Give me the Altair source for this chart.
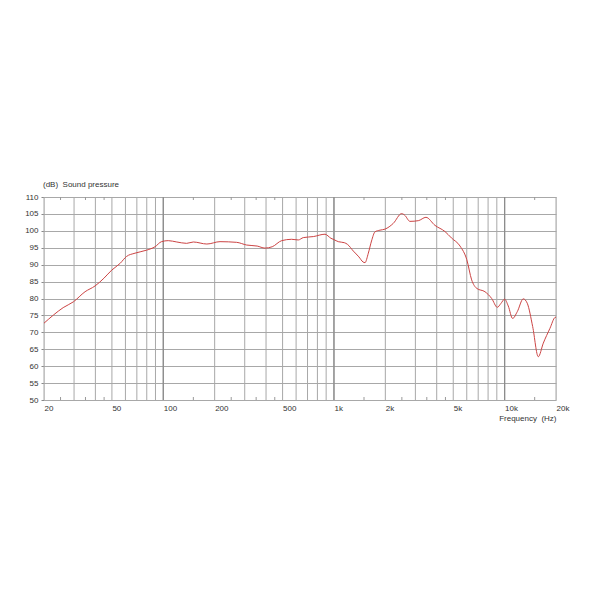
import altair as alt
import pandas as pd

# Frequency response
freq = [20, 22.7, 25.9, 29.7, 34.8, 39.8, 44.9, 49.9, 55.9, 60.8, 68.3, 80, 89.5,
        97.6, 107, 120, 137, 150, 180, 215, 269, 308, 355, 394, 435, 494, 565,
        618, 661, 757, 886, 960, 1000, 1060, 1150, 1200, 1300, 1400, 1480, 1520,
        1590, 1660, 1740, 1860, 1990, 2226, 2493, 2600, 2789, 3120, 3460, 3910,
        4470, 4880, 5480, 6000, 6410, 6860, 7670, 8400, 9060, 9500, 10000, 10500,
        11140, 11860, 12860, 13570, 14600, 15750, 16850, 18440, 19720, 20000]
spl = [72.7, 75.1, 77.3, 79.0, 82.0, 83.7, 86.0, 88.4, 90.4, 92.4, 93.4, 94.3, 95.3,
       96.8, 97.1, 96.7, 96.3, 96.7, 96.1, 96.8, 96.6, 95.8, 95.5, 94.9, 95.3, 97.1, 97.5,
       97.3, 98.0, 98.3, 99.0, 97.8, 97.4, 96.8, 96.5, 96.0, 94.0, 92.3, 90.8, 90.6,
       93.4, 97.0, 99.7, 100.2, 100.5, 102.2, 105.1, 104.6, 102.8, 103.0, 104.0, 101.6,
       99.8, 97.9, 95.5, 91.5, 85.5, 83.0, 82.0, 80.0, 77.4, 78.5, 79.8, 77.8,
       74.1, 76.1, 79.9, 78.6, 71.7, 62.8, 66.8, 71.2, 74.4, 74.5]

grid_freqs = [20, 30, 40, 50, 60, 70, 80, 90, 100, 200, 300, 400, 500, 600, 700, 800, 900,
              1000, 2000, 3000, 4000, 5000, 6000, 7000, 8000, 9000, 10000, 20000]
decade_freqs = [100, 1000, 10000]
minor_ticks = [25, 35, 45, 150, 250, 350, 450, 1500, 2500, 3500, 4500, 15000]
label_freqs = [20, 50, 100, 200, 500, 1000, 2000, 5000, 10000, 20000]
db_ticks = [50, 55, 60, 65, 70, 75, 80, 85, 90, 95, 100, 105, 110]

FONT = "Liberation Sans"
W, H = 512, 203

curve = pd.DataFrame({"f": freq, "db": spl})
grid_df = pd.DataFrame({"f": grid_freqs})
dec_df = pd.DataFrame({"f": decade_freqs})
minor_df = pd.DataFrame({"f": minor_ticks})

xscale = alt.Scale(type="log", domain=[20, 20000], nice=False)
yscale = alt.Scale(domain=[50, 110], nice=False, zero=False)

label_expr = ("datum.value >= 1000 ? (datum.value/1000) + 'k' : '' + datum.value")

xaxis = alt.Axis(values=label_freqs, labelExpr=label_expr, grid=False, ticks=False,
                 domain=False, labelAlign="left", labelPadding=4, labelFlush=False,
                 labelFont=FONT, labelFontSize=8, labelColor="#333",
                 title="Frequency\u00a0\u00a0(Hz)", titleFont=FONT, titleFontSize=8,
                 titleFontWeight="normal", titleColor="#333", titleAnchor="end",
                 titleAlign="right", titlePadding=2)
yaxis = alt.Axis(values=db_ticks, grid=True, gridColor="#a8a8a8", gridWidth=1,
                 ticks=True, tickSize=3, tickColor="#888", domain=False,
                 labelFont=FONT, labelFontSize=8, labelColor="#333", labelPadding=3,
                 title=None)

vgrid = alt.Chart(grid_df).mark_rule(color="#a8a8a8", strokeWidth=1).encode(
    x=alt.X("f:Q", scale=xscale, axis=xaxis),
)
dgrid = alt.Chart(dec_df).mark_rule(color="#8c8c8c", strokeWidth=1.3).encode(
    x=alt.X("f:Q", scale=xscale),
)
tick_bot = alt.Chart(minor_df).mark_rule(color="#999", strokeWidth=1).encode(
    x=alt.X("f:Q", scale=xscale), y=alt.value(H - 3), y2=alt.value(H)
)
tick_top = alt.Chart(minor_df).mark_rule(color="#999", strokeWidth=1).encode(
    x=alt.X("f:Q", scale=xscale), y=alt.value(0), y2=alt.value(3)
)
line = alt.Chart(curve).mark_line(color="#cc4444", strokeWidth=1, interpolate="monotone").encode(
    x=alt.X("f:Q", scale=xscale),
    y=alt.Y("db:Q", scale=yscale, axis=yaxis),
)

chart = alt.layer(vgrid, dgrid, tick_bot, tick_top, line).properties(
    width=W, height=H,
    title=alt.TitleParams("(dB)\u00a0\u00a0Sound pressure", anchor="start", frame="group",
                          font=FONT, fontSize=8, fontWeight="normal", color="#333",
                          offset=4, dx=-1),
    autosize=alt.AutoSizeParams(type="none"),
    padding={"left": 36, "top": 189, "right": 30, "bottom": 180},
).configure_view(stroke="#666", strokeWidth=1).configure(background="white")

chart.save("out.html", embed_options={"renderer": "svg", "actions": False})
